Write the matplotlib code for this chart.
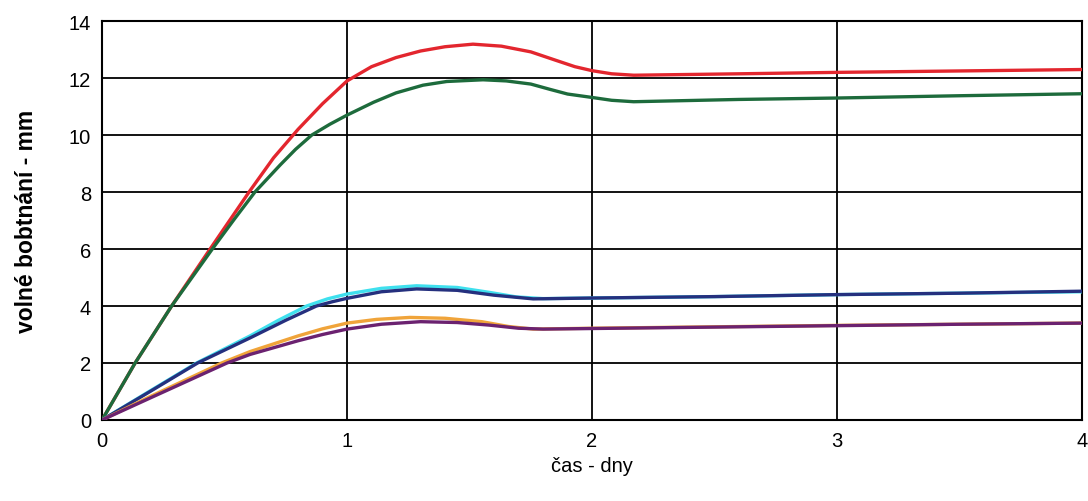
import numpy as np
import matplotlib.pyplot as plt

plt.rcParams["font.family"] = ["Liberation Sans", "DejaVu Sans"]

# values (x = days, y = mm)
red_x = [0, 0.135, 0.284, 0.441, 0.6, 0.7, 0.8, 0.9, 1.0, 1.1, 1.2, 1.3, 1.4, 1.514, 1.63, 1.75, 1.85, 1.93, 2.0, 2.08, 2.17, 2.6, 3.0, 3.5, 4.0]
red_y = [0, 2.0, 4.0, 6.0, 8.0, 9.2, 10.2, 11.1, 11.9, 12.4, 12.72, 12.95, 13.1, 13.19, 13.12, 12.92, 12.63, 12.4, 12.26, 12.15, 12.1, 12.15, 12.2, 12.25, 12.3]

green_x = [0, 0.135, 0.284, 0.45, 0.54, 0.624, 0.727, 0.79, 0.856, 0.93, 1.0, 1.108, 1.2, 1.31, 1.407, 1.555, 1.65, 1.75, 1.83, 1.9, 2.0, 2.08, 2.17, 2.6, 3.0, 3.5, 4.0]
green_y = [0, 2.0, 4.0, 6.0, 7.05, 8.0, 8.95, 9.5, 10.0, 10.38, 10.7, 11.15, 11.48, 11.75, 11.88, 11.94, 11.9, 11.79, 11.6, 11.44, 11.32, 11.22, 11.17, 11.25, 11.3, 11.38, 11.45]

cyan_x = [0, 0.196, 0.386, 0.604, 0.72, 0.835, 0.92, 1.0, 1.14, 1.284, 1.45, 1.58, 1.69, 1.8, 2.0, 2.5, 3.0, 3.5, 4.0]
cyan_y = [0, 1.02, 2.0, 2.95, 3.5, 4.0, 4.25, 4.42, 4.62, 4.71, 4.65, 4.48, 4.32, 4.26, 4.28, 4.33, 4.4, 4.45, 4.5]

navy_x = [0, 0.196, 0.39, 0.604, 0.75, 0.875, 0.94, 1.0, 1.14, 1.284, 1.45, 1.6, 1.76, 2.0, 2.5, 3.0, 3.5, 4.0]
navy_y = [0, 1.0, 2.0, 2.88, 3.5, 4.0, 4.15, 4.27, 4.5, 4.6, 4.55, 4.38, 4.25, 4.28, 4.33, 4.4, 4.45, 4.52]

orange_x = [0, 0.196, 0.488, 0.604, 0.8, 0.9, 1.0, 1.12, 1.257, 1.4, 1.55, 1.66, 1.76, 2.0, 2.5, 3.0, 3.5, 4.0]
orange_y = [0, 0.82, 2.0, 2.4, 2.95, 3.2, 3.4, 3.53, 3.6, 3.57, 3.45, 3.28, 3.19, 3.22, 3.27, 3.32, 3.36, 3.4]

purple_x = [0, 0.196, 0.51, 0.604, 0.8, 0.9, 1.0, 1.14, 1.3, 1.45, 1.58, 1.7, 1.8, 2.0, 2.5, 3.0, 3.5, 4.0]
purple_y = [0, 0.77, 2.0, 2.3, 2.78, 3.0, 3.19, 3.36, 3.45, 3.42, 3.33, 3.22, 3.19, 3.21, 3.26, 3.31, 3.36, 3.4]

series = [
    (red_x, red_y, "#e3262e"),
    (green_x, green_y, "#1d6b3c"),
    (cyan_x, cyan_y, "#3fe0ee"),
    (navy_x, navy_y, "#25307e"),
    (orange_x, orange_y, "#f0a43a"),
    (purple_x, purple_y, "#6b2270"),
]

fig = plt.figure(figsize=(10.88, 5.02), dpi=100)
ax = fig.add_axes([0.0938, 0.1614, 0.9007, 0.7946])

for xs, ys, c in series:
    ax.plot(xs, ys, color=c, lw=2.4, solid_capstyle="round",
            solid_joinstyle="round", zorder=3)

ax.set_xlim(0, 4)
ax.set_ylim(0, 14)
ax.set_xticks(np.arange(0, 5, 1))
ax.set_yticks(np.arange(0, 15, 2))
ax.grid(True, color="black", lw=1.3)
ax.set_axisbelow(True)
for s in ax.spines.values():
    s.set_color("black")
    s.set_linewidth(1.5)
ax.tick_params(length=0, labelsize=14.5, pad=8)

ax.set_xlabel("čas - dny", fontsize=14.5, labelpad=4)
ax.set_ylabel("volné bobtnání - mm", fontsize=16.5, fontweight="bold", labelpad=22)

fig.savefig("out.png", dpi=100)
